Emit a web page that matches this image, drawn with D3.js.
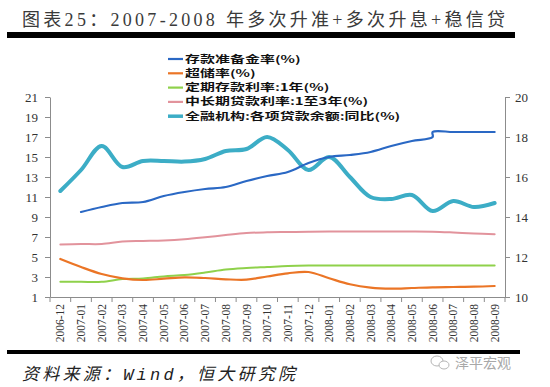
<!DOCTYPE html>
<html>
<head>
<meta charset="utf-8">
<script src="https://cdn.jsdelivr.net/npm/d3@7"></script>
<style>
    body { margin: 0; background: #fff; }
    svg { display: block; }
</style>
</head>
<body>
<div id="chart"></div>
<script>
const months = ['2006-12', '2007-01', '2007-02', '2007-03', '2007-04', '2007-05', '2007-06',
    '2007-07', '2007-08', '2007-09', '2007-10', '2007-11', '2007-12', '2008-01', '2008-02',
    '2008-03', '2008-04', '2008-05', '2008-06', '2008-07', '2008-08', '2008-09'];

// 存款准备金率: two hikes in 2008-06, so that month appears twice
const rrrMonths = ['2007-01', '2007-02', '2007-03', '2007-04', '2007-05', '2007-06', '2007-07',
    '2007-08', '2007-09', '2007-10', '2007-11', '2007-12', '2008-01', '2008-02', '2008-03',
    '2008-04', '2008-05', '2008-06', '2008-06', '2008-07', '2008-08', '2008-09'];
const rrrValues = [9.5, 10.0, 10.4, 10.5, 11.1, 11.5, 11.8, 12.0, 12.6, 13.1, 13.5, 14.4,
    15.0, 15.2, 15.5, 16.1, 16.6, 17.0, 17.5, 17.5, 17.5, 17.5];

const excessReserve = [4.8, 4.0, 3.3, 2.87, 2.7, 2.83, 2.97, 2.9, 2.77, 2.73, 3.05, 3.37,
    3.5, 2.87, 2.27, 1.93, 1.83, 1.9, 1.97, 2.0, 2.03, 2.1];
const deposit1y = [2.52, 2.52, 2.52, 2.79, 2.85, 3.06, 3.2, 3.45, 3.75, 3.9, 4.0, 4.1,
    4.14, 4.14, 4.14, 4.14, 4.14, 4.14, 4.14, 4.14, 4.14, 4.14];
const loan1to3y = [6.25, 6.3, 6.3, 6.55, 6.6, 6.65, 6.77, 6.97, 7.2, 7.4, 7.47, 7.5,
    7.53, 7.55, 7.55, 7.55, 7.55, 7.55, 7.53, 7.45, 7.35, 7.27];
const loanGrowth = [15.3, 16.35, 17.55, 16.5, 16.8, 16.8, 16.77, 16.9, 17.3, 17.4, 18.0, 17.35,
    16.35, 17.0, 16.0, 15.0, 14.9, 15.1, 14.3, 14.8, 14.5, 14.7];

const leftTicks = [1, 3, 5, 7, 9, 11, 13, 15, 17, 19, 21];
const rightTicks = [10, 12, 14, 16, 18, 20];

const legendNames = ['存款准备金率(%)', '超储率(%)', '定期存款利率:1年(%)',
    '中长期贷款利率:1至3年(%)', '全融机构:各项贷款余额:同比(%)'];

const width = 550, height = 387;
const plot = { left: 50, right: 505, top: 97, bottom: 297 };

const svg = d3.select('#chart')
    .append('svg')
        .attr('width', width)
        .attr('height', height);

// title + bars
svg.append('text')
    .attr('x', 22)
    .attr('y', 26)
    .attr('textLength', 483)
    .attr('lengthAdjust', 'spacing')
    .style('font-family', '"Liberation Serif", "Noto Sans CJK SC", serif')
    .style('font-size', '18px')
    .style('fill', '#3a3a3a')
    .text('图表25：2007-2008 年多次升准+多次升息+稳信贷');

svg.append('rect').attr('x', 7).attr('y', 32).attr('width', 508).attr('height', 6).attr('fill', '#000');
svg.append('rect').attr('x', 7).attr('y', 350).attr('width', 513).attr('height', 4).attr('fill', '#000');

svg.append('text')
    .attr('x', 22)
    .attr('y', 380)
    .attr('textLength', 273)
    .attr('lengthAdjust', 'spacing')
    .style('font-family', '"Liberation Mono", "Noto Sans CJK SC", monospace')
    .style('font-style', 'italic')
    .style('font-size', '17px')
    .style('fill', '#222')
    .text('资料来源：Wind，恒大研究院');

// watermark
const wm = svg.append('g').attr('transform', 'translate(440,363)');
wm.append('ellipse').attr('cx', -3).attr('cy', -2).attr('rx', 6).attr('ry', 5)
    .attr('fill', 'none').attr('stroke', '#b5b5b5');
wm.append('ellipse').attr('cx', 4).attr('cy', 2).attr('rx', 5).attr('ry', 4)
    .attr('fill', '#fff').attr('stroke', '#b5b5b5');
wm.append('text')
    .attr('x', 15)
    .attr('y', 5)
    .style('font-family', '"Noto Sans CJK SC", sans-serif')
    .style('font-size', '14px')
    .style('fill', '#a8a8a8')
    .text('泽平宏观');

// scales
const x = d3.scaleBand().domain(months).range([plot.left, plot.right]);
const cx = (m) => x(m) + x.bandwidth() / 2;
const yL = d3.scaleLinear().domain([1, 21]).range([plot.bottom, plot.top]);
const yR = d3.scaleLinear().domain([10, 20]).range([plot.bottom, plot.top]);

const axisColor = '#8c8c8c';
const tickFont = '"Liberation Serif", "Times New Roman", serif';

// x axis
const xAxis = svg.append('g')
    .attr('transform', 'translate(0,' + plot.bottom + ')')
    .call(d3.axisBottom(x).tickSize(0).tickSizeOuter(0));
xAxis.select('.domain').attr('stroke', axisColor);
xAxis.selectAll('text')
    .attr('transform', 'rotate(-90)')
    .attr('x', -7)
    .attr('y', 0)
    .attr('dy', '0.35em')
    .style('text-anchor', 'end')
    .style('font-family', tickFont)
    .style('font-size', '11.5px')
    .style('fill', '#333');
xAxis.selectAll('.boundary')
    .data(d3.range(months.length + 1))
    .enter().append('line')
        .attr('class', 'boundary')
        .attr('x1', (i) => plot.left + i * x.step())
        .attr('x2', (i) => plot.left + i * x.step())
        .attr('y1', 0)
        .attr('y2', 5)
        .attr('stroke', axisColor);

// y axes
const leftAxis = svg.append('g')
    .attr('transform', 'translate(' + plot.left + ',0)')
    .call(d3.axisLeft(yL).tickValues(leftTicks).tickSize(5).tickSizeOuter(0).tickPadding(7));
const rightAxis = svg.append('g')
    .attr('transform', 'translate(' + plot.right + ',0)')
    .call(d3.axisRight(yR).tickValues(rightTicks).tickSize(5).tickSizeOuter(0).tickPadding(5));

[leftAxis, rightAxis].forEach((g) => {
    g.select('.domain').attr('stroke', axisColor);
    g.selectAll('.tick line').attr('stroke', axisColor);
    g.selectAll('text')
        .style('font-family', tickFont)
        .style('font-size', '13px')
        .style('fill', '#333');
});

// lines
const lineL = d3.line()
    .x((d) => cx(d[0]))
    .y((d) => yL(d[1]))
    .curve(d3.curveCatmullRom.alpha(0.5));
const lineR = d3.line()
    .x((d) => cx(d[0]))
    .y((d) => yR(d[1]))
    .curve(d3.curveCatmullRom.alpha(0.5));

const series = [
    { data: d3.zip(rrrMonths, rrrValues), line: lineL, color: '#2a68c4', width: 2.2 },
    { data: d3.zip(months, excessReserve), line: lineL, color: '#eb7526', width: 2.2 },
    { data: d3.zip(months, deposit1y), line: lineL, color: '#8fd14b', width: 2 },
    { data: d3.zip(months, loan1to3y), line: lineL, color: '#e2939c', width: 2 },
    { data: d3.zip(months, loanGrowth), line: lineR, color: '#3cadc6', width: 4 }
];

// draw order: thick teal under the others except the blue on top
const drawOrder = [3, 2, 1, 4, 0];
drawOrder.forEach((i) => {
    const s = series[i];
    svg.append('path')
        .datum(s.data)
        .attr('fill', 'none')
        .attr('stroke', s.color)
        .attr('stroke-width', s.width)
        .attr('stroke-linejoin', 'round')
        .attr('stroke-linecap', 'round')
        .attr('d', s.line);
});

// legend
const legend = svg.append('g').attr('transform', 'translate(168,59)');
const item = legend.selectAll('.item')
    .data(series)
    .enter().append('g')
        .attr('class', 'item')
        .attr('transform', (d, i) => 'translate(0,' + (i * 14.3) + ')');
item.append('line')
    .attr('x1', 0)
    .attr('x2', 15)
    .attr('stroke', (d) => d.color)
    .attr('stroke-width', (d) => d.width === 4 ? 3.5 : 2.2);
item.append('text')
    .attr('transform', 'translate(17,0) scale(1.53,1)')
    .attr('dy', '0.36em')
    .style('font-family', '"Noto Sans CJK SC", sans-serif')
    .style('font-weight', 'bold')
    .style('font-size', '9.8px')
    .style('fill', '#111')
    .text((d, i) => legendNames[i]);
</script>
</body>
</html>
